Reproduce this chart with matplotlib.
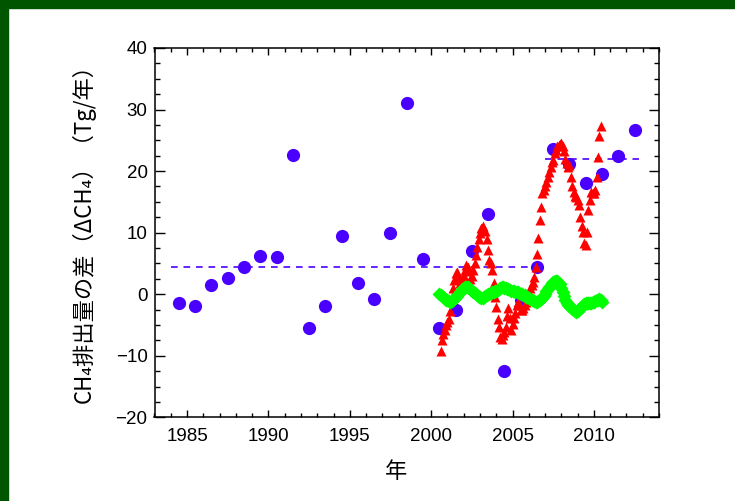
import matplotlib
matplotlib.use('Agg')
import matplotlib.pyplot as plt
from matplotlib.patches import Rectangle
from matplotlib.ticker import MultipleLocator

# 年ごとの排出量の差 (青丸)
blue_years = list(range(1984, 2013))
blue_vals = [-1.4, -1.9, 1.5, 2.7, 4.4, 6.2, 6.1, 22.6, -5.5, -1.9,
             9.4, 1.9, -0.7, 9.9, 31.1, 5.7, -5.5, -2.6, 7.0, 13.1,
             -12.5, -1.0, 4.5, 23.6, 21.1, 18.1, 19.6, 22.5, 26.6]

# 期間平均 (破線)
mean1_span = [1984.0, 2006.5]
mean1_val = 4.4
mean2_span = [2007.0, 2012.8]
mean2_val = 21.9

# 月ごとの値 (赤三角) 2000年8月から
red_start = 2000 + 7 / 12
red_vals = [-9.2, -7.5, -6.5, -5.8, -5.0,
            -4.5, -4.0, -2.8, -0.5, 1.0, 2.3, 3.4, 3.6, 2.8, 1.8, 2.0, 2.5,
            3.0, 4.0, 4.7, 4.4, 3.8, 2.5, 3.0, 4.0, 5.0, 6.4, 7.7, 9.0,
            9.9, 10.8, 11.0, 10.5, 10.2, 9.0, 7.2, 5.6, 5.0, 3.9, 1.8, -0.5,
            -2.0, -4.0, -5.3, -6.9, -7.2, -6.6, -6.1, -5.3, -3.5, -2.3, -3.9, -5.8,
            -4.8, -3.9, -3.0, -1.75, -1.2, -1.8, -2.6, -2.5, -2.3, -1.75, -1.2, -0.5,
            0.15, 1.0, 1.5, 2.0, 2.85, 4.5, 6.6, 9.1, 12.0, 14.2, 16.4, 17.0,
            17.5, 18.3, 19.1, 19.9, 20.7, 21.5, 21.8, 22.9, 23.5, 24.0, 24.2, 24.4,
            24.5, 24.0, 23.2, 22.0, 21.3, 20.7, 21.0, 19.1, 17.5, 16.6, 16.0, 15.8,
            15.3, 14.5, 12.6, 11.0, 10.1, 8.3, 8.0, 10.1, 13.7, 15.3, 16.6, 16.4,
            16.4, 16.9, 19.0, 22.3, 25.7, 27.3]

# 月ごとの値 (緑) 2000年7月から
green_start = 2000 + 6 / 12
green_vals = [0.0, -0.1, -0.3, -0.5, -0.7, -0.9,
              -1.0, -1.1, -1.2, -1.1, -0.9, -0.7, -0.5, -0.3, 0.0, 0.3, 0.6, 0.8,
              1.0, 1.1, 1.2, 1.1, 1.0, 0.8, 0.6, 0.4, 0.2, 0.0, -0.2, -0.4,
              -0.5, -0.6, -0.6, -0.5, -0.3, -0.1, 0.0, 0.1, 0.2, 0.3, 0.4, 0.5,
              0.6, 0.7, 0.9, 1.0, 1.1, 1.1, 1.0, 1.0, 0.9, 0.8, 0.7, 0.6,
              0.5, 0.45, 0.4, 0.4, 0.3, 0.2, 0.1, 0.0, -0.1, -0.2, -0.4, -0.5,
              -0.6, -0.7, -0.9, -1.0, -1.1, -1.2, -1.2, -1.1, -1.0, -0.8, -0.65, -0.3,
              0.1, 0.5, 0.9, 1.2, 1.5, 1.8, 2.0, 2.2, 2.2, 2.1, 1.9, 1.6,
              1.0, 0.3, -0.3, -1.0, -1.5, -1.7, -1.9, -2.1, -2.4, -2.6, -2.8, -2.85,
              -2.7, -2.4, -2.2, -2.0, -1.8, -1.6, -1.5, -1.45, -1.4, -1.4, -1.4, -1.3,
              -1.2, -1.1, -1.0, -0.9, -0.8, -1.0, -1.2]

xticks = [1985, 1990, 1995, 2000, 2005, 2010]
yticks = [-20, -10, 0, 10, 20, 30, 40]

red_t = [red_start + i / 12 for i in range(len(red_vals))]
green_t = [green_start + i / 12 for i in range(len(green_vals))]
blue_t = [y + 0.5 for y in blue_years]

blue = '#4a00ff'
cjk = ['Noto Sans CJK JP', 'DejaVu Sans']

fig = plt.figure(figsize=(7.35, 5.01), dpi=100)
fig.add_artist(Rectangle((0, 1 - 8 / 501), 1, 8 / 501, transform=fig.transFigure, color='#005500', zorder=0))
fig.add_artist(Rectangle((0, 0), 8 / 735, 1, transform=fig.transFigure, color='#005500', zorder=0))

ax = fig.add_axes([154.5 / 735, 1 - 417.3 / 501, 504.5 / 735, 369.3 / 501])
ax.plot(mean1_span, [mean1_val, mean1_val], color=blue, lw=1.2, ls=(0, (4, 3.5)), zorder=2)
ax.plot(mean2_span, [mean2_val, mean2_val], color=blue, lw=1.2, ls=(0, (4, 3.5)), zorder=2)
ax.plot(blue_t, blue_vals, 'o', color=blue, ms=9.5, mec='none', zorder=3)
ax.plot(red_t, red_vals, '^', color='#ff0000', ms=6.5, mec='none', zorder=4)
ax.plot(green_t, green_vals, 'D', color='#00ff00', ms=7, mec='none', zorder=5)

ax.set_xlim(1983, 2014)
ax.set_ylim(-20, 40)
ax.set_xticks(xticks)
ax.set_yticks(yticks)
ax.xaxis.set_minor_locator(MultipleLocator(1))
ax.yaxis.set_minor_locator(MultipleLocator(2.5))
ax.tick_params(which='both', direction='in', top=True, right=True, width=1, colors='black')
ax.tick_params(axis='x', which='major', length=5, pad=8)
ax.tick_params(axis='x', which='minor', length=3)
ax.tick_params(axis='y', which='major', length=7, pad=5)
ax.tick_params(axis='y', which='minor', length=3.6)
for lab in ax.get_xticklabels() + ax.get_yticklabels():
    lab.set_fontfamily('Liberation Sans')
    lab.set_fontsize(13.5)
for s in ax.spines.values():
    s.set_linewidth(1.1)

fig.text(84 / 735, 1 - 228 / 501, 'CH₄排出量の差（ΔCH₄）（Tg/年）', rotation=90,
         ha='center', va='center', fontsize=16, family=cjk)
fig.text(396 / 735, 1 - 472 / 501, '年', ha='center', va='center', fontsize=16, family=cjk)

fig.savefig('out.png', dpi=100)
